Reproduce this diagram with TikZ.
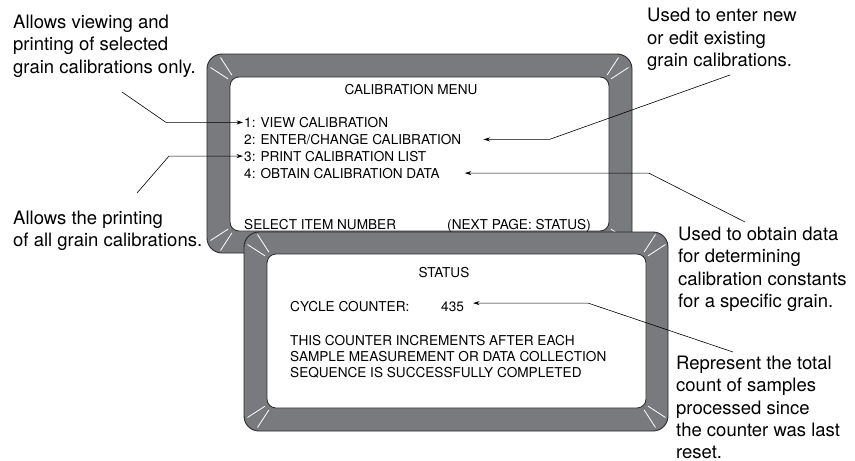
\documentclass[tikz,border=0pt]{standalone}
\usepackage{fontspec}
\setmainfont{TeX Gyre Heros}
\usetikzlibrary{arrows.meta, calc}
\definecolor{bezelgrey}{RGB}{121,122,126}
\definecolor{edgegrey}{RGB}{40,40,42}
\newcommand{\notefont}{\fontsize{18.5}{22.3}\selectfont}
\newcommand{\scrfont}{\fontsize{13.6}{16.5}\selectfont}

\begin{document}
\begin{tikzpicture}[x=1pt, y=-1pt,
    bezel/.style={fill=bezelgrey, draw=edgegrey, line width=0.9pt, rounded corners=15pt},
    glass/.style={fill=white, draw=edgegrey, line width=0.8pt, rounded corners=9pt},
    glint/.style={draw=white, line width=0.8pt},
    scr text/.style={font=\scrfont, inner sep=1pt, text height=9.8pt, text depth=0pt},
    note/.style={font=\notefont, align=left, inner sep=0pt, anchor=base west},
    arr/.style={-{Stealth[length=6.5pt,width=4pt]}, line width=0.6pt, draw=black},
  ]
  \useasboundingbox (0,0) rectangle (855,461);

  % ============ CALIBRATION MENU SCREEN ============
  \draw[bezel] (207,54) rectangle (632,253);
  \draw[glass] (230,77) rectangle (609,231);
  \foreach \cx/\cy/\a in {239/86/225, 600/86/315, 600/222/45, 239/222/135}
    \foreach \d in {-12,12}
      \draw[glint, shift={(\cx,\cy)}] ({\a+\d}:13) -- ({\a+\d}:34);

  \node[scr text, anchor=base] (menu title) at (411,94) {CALIBRATION MENU};
  \node[scr text, anchor=base west] (item1) at (243,127.3) {1: VIEW CALIBRATION};
  \node[scr text, anchor=base west] (item2) at (243,144.3) {2: ENTER/CHANGE CALIBRATION};
  \node[scr text, anchor=base west] (item3) at (243,161) {3: PRINT CALIBRATION LIST};
  \node[scr text, anchor=base west] (item4) at (243,178) {4: OBTAIN CALIBRATION DATA};
  \node[scr text, anchor=base west] (select) at (243,229) {SELECT ITEM NUMBER};
  \node[scr text, anchor=base east] (next page) at (592,229) {(NEXT PAGE: STATUS)};

  % ============ STATUS SCREEN (in front) ============
  \draw[bezel] (244,232) rectangle (668,431);
  \draw[glass] (267,254) rectangle (646,408);
  \foreach \cx/\cy/\a in {276/263/225, 637/263/315, 637/399/45, 276/399/135}
    \foreach \d in {-12,12}
      \draw[glint, shift={(\cx,\cy)}] ({\a+\d}:13) -- ({\a+\d}:34);

  \node[scr text, anchor=base] (status title) at (444,277.3) {STATUS};
  \node[scr text, anchor=base west] (cycle) at (289,311) {CYCLE COUNTER:};
  \node[scr text, anchor=base west] (count) at (440,311) {435};
  \node[scr text, anchor=base west] (info1) at (289,345) {THIS COUNTER INCREMENTS AFTER EACH};
  \node[scr text, anchor=base west] (info2) at (289,361) {SAMPLE MEASUREMENT OR DATA COLLECTION};
  \node[scr text, anchor=base west] (info3) at (289,377.3) {SEQUENCE IS SUCCESSFULLY COMPLETED};

  % ============ CALLOUT TEXTS ============
  % base anchor sits on the last line here
  \node[note] (view note) at (13,73.1)
    {Allows viewing and\\printing of selected\\grain calibrations only.};
  \node[note] (print note) at (13,246.3)
    {Allows the printing\\of all grain calibrations.};
  \node[note] (enter note) at (647,66.5)
    {Used to enter new\\or edit existing\\grain calibrations.};
  \node[note] (obtain note) at (678,307.5)
    {Used to obtain data\\for determining\\calibration constants\\for a specific grain.};
  \node[note] (count note) at (676,458.6)
    {Represent the total\\count of samples\\processed since\\the counter was last\\reset.};

  % ============ LEADERS ============
  \coordinate (view from) at (122,92);
  \coordinate (print from) at (137,193);
  \coordinate (enter from) at (730,75);
  \coordinate (obtain from) at (745,222);
  \coordinate (count from) at (733,352);

  \draw[arr] (view from) -- ($(item1.west)+(-77,0)$) -- (item1.west);
  \draw[arr] (print from) -- ($(item3.west)+(-74,0)$) -- (item3.west);
  \draw[arr] (enter from) -- ([xshift=87pt]item2.east) -- ([xshift=21pt]item2.east);
  \draw[arr] (obtain from) -- ([xshift=208pt]item4.east) -- ([xshift=24pt]item4.east);
  \draw[arr] (count from) -- ([xshift=123pt,yshift=3pt]count.east) -- ([xshift=8pt,yshift=3pt]count.east);

\end{tikzpicture}
\end{document}
